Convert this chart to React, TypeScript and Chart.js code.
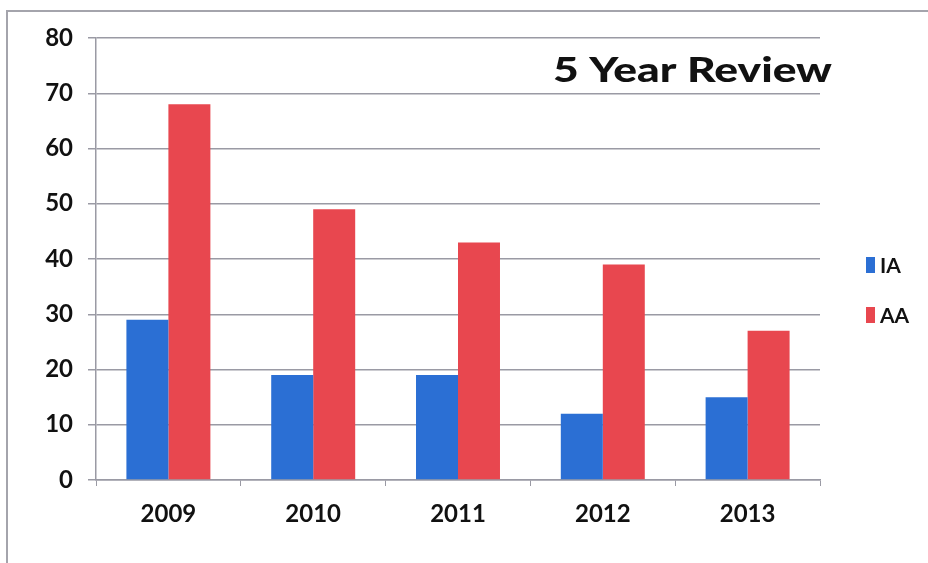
import React, { useEffect, useRef } from "react";
import { Chart, registerables } from "chart.js";

Chart.register(...registerables);

const categories = ["2009", "2010", "2011", "2012", "2013"];
const iaValues = [29, 19, 19, 12, 15];
const aaValues = [68, 49, 43, 39, 27];
const yTicks = [0, 10, 20, 30, 40, 50, 60, 70, 80];
const titleText = "5 Year Review";

const FONT = "Lato";

const overlayPlugin = {
  id: "overlay",
  beforeDraw(chart: any) {
    const ctx = chart.ctx;
    ctx.save();
    ctx.strokeStyle = "#a4a4ac";
    ctx.lineWidth = 2;
    ctx.beginPath();
    ctx.moveTo(7, 570);
    ctx.lineTo(7, 11);
    ctx.lineTo(940, 11);
    ctx.stroke();
    ctx.restore();
  },
  afterDraw(chart: any) {
    const ctx = chart.ctx;
    ctx.save();
    ctx.font = `900 34px ${FONT}`;
    ctx.fillStyle = "#111";
    ctx.textBaseline = "alphabetic";
    const w = ctx.measureText(titleText).width;
    ctx.translate(553, 82);
    ctx.scale(279 / w, 1);
    ctx.fillText(titleText, 0, 0);
    ctx.restore();
    ctx.save();
    chart.data.datasets.forEach((ds: any, i: number) => {
      const y = 265 + i * 50;
      ctx.fillStyle = ds.backgroundColor;
      ctx.fillRect(866, y - 8, 9, 16);
      ctx.fillStyle = "#111";
      ctx.font = `bold 21px ${FONT}`;
      ctx.textBaseline = "middle";
      ctx.fillText(ds.label, 880, y + 1);
    });
    ctx.restore();
  },
};

export default function App() {
  const ref = useRef<HTMLCanvasElement>(null);
  useEffect(() => {
    if (!ref.current) return;
    const chart = new Chart(ref.current, {
      type: "bar",
      data: {
        labels: categories,
        datasets: [
          { label: "IA", data: iaValues, backgroundColor: "#2b6fd4", borderWidth: 0 },
          { label: "AA", data: aaValues, backgroundColor: "#e8474f", borderWidth: 0 },
        ],
      },
      plugins: [overlayPlugin],
      options: {
        responsive: false,
        animation: false,
        layout: { padding: { left: 0, top: 38, right: 108, bottom: 0 } },
        plugins: { legend: { display: false }, tooltip: { enabled: false }, title: { display: false } },
        datasets: { bar: { barPercentage: 1, categoryPercentage: 0.58 } } as any,
        scales: {
          x: {
            grid: { display: true, drawOnChartArea: false, drawTicks: true, tickLength: 6, color: "#9a9aa4", offset: true },
            border: { color: "#9a9aa4", width: 1.5 },
            ticks: { color: "#111", font: { family: FONT, weight: "bold", size: 24 }, padding: 14 },
            afterFit(scale: any) { scale.height = 83; },
          },
          y: {
            min: 0,
            max: 80,
            afterBuildTicks(scale: any) { scale.ticks = yTicks.map((v) => ({ value: v })); },
            grid: { color: "#9a9aa4", lineWidth: 1.5, tickLength: 8 },
            border: { color: "#9a9aa4", width: 1.5 },
            ticks: { color: "#111", font: { family: FONT, weight: "bold", size: 24 }, padding: 15 },
            afterFit(scale: any) { scale.width = 96; },
          },
        },
      },
    });
    return () => chart.destroy();
  }, []);
  return (
    <div style={{ position: "fixed", left: 0, top: 0, width: 928, height: 563, background: "#fff", overflow: "hidden" }}>
      <canvas ref={ref} width={928} height={563} style={{ position: "absolute", left: 0, top: 0 }} />
    </div>
  );
}
